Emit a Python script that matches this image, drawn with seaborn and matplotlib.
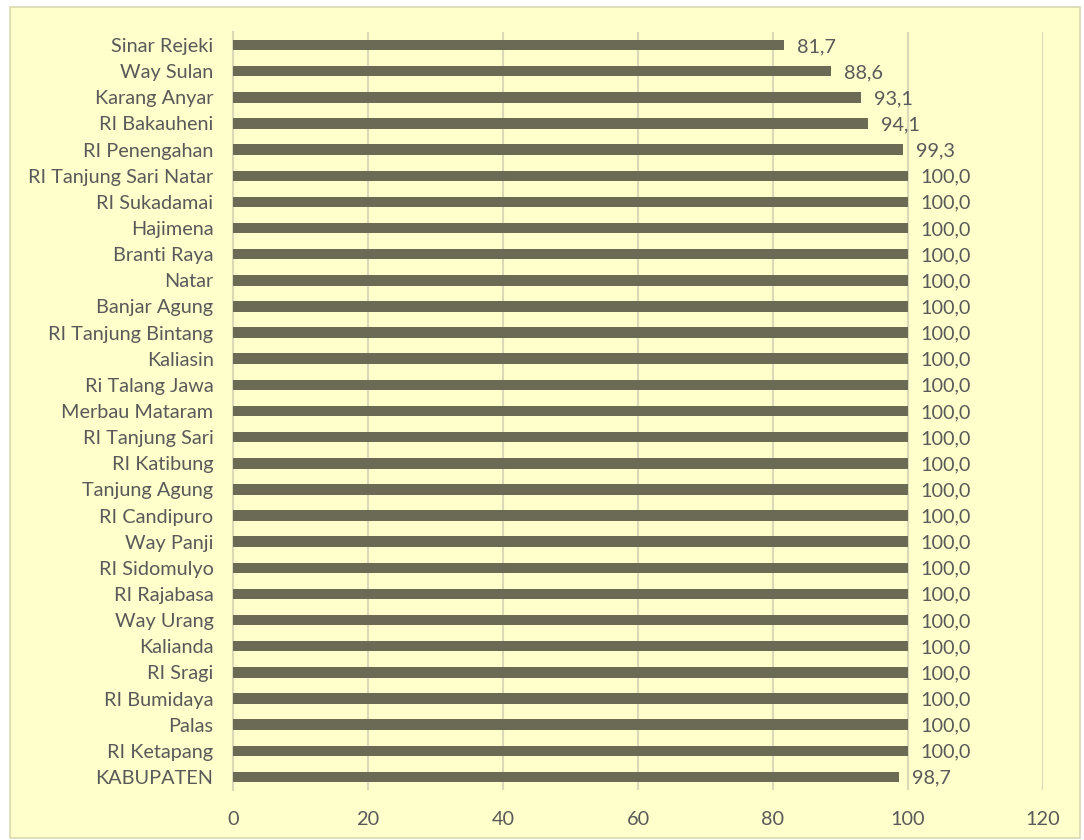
import matplotlib
matplotlib.use("Agg")
import matplotlib.pyplot as plt
import seaborn as sns
import pandas as pd
from matplotlib.patches import Rectangle

categories = ["Sinar Rejeki", "Way Sulan", "Karang Anyar", "RI Bakauheni", "RI Penengahan",
              "RI Tanjung Sari Natar", "RI Sukadamai", "Hajimena", "Branti Raya", "Natar",
              "Banjar Agung", "RI Tanjung Bintang", "Kaliasin", "Ri Talang Jawa", "Merbau Mataram",
              "RI Tanjung Sari", "RI Katibung", "Tanjung Agung", "RI Candipuro", "Way Panji",
              "RI Sidomulyo", "RI Rajabasa", "Way Urang", "Kalianda", "RI Sragi", "RI Bumidaya",
              "Palas", "RI Ketapang", "KABUPATEN"]
values = [81.7, 88.6, 93.1, 94.1, 99.3] + [100.0] * 23 + [98.7]
xticks = [0, 20, 40, 60, 80, 100, 120]

df = pd.DataFrame({"name": categories, "value": values})

sns.set_theme(style="white")
plt.rcParams['font.family'] = ['Lato', 'DejaVu Sans']

W, H = 1084, 840
fig = plt.figure(figsize=(W / 100, H / 100), dpi=100)
fig.patch.set_facecolor("white")
fig.patches.append(Rectangle((10 / W, 1 - 838 / H), 1070 / W, 831 / H, transform=fig.transFigure,
                             facecolor="#FFFFCC", edgecolor="#D9D9B0", linewidth=1.2, zorder=-10))

ax = fig.add_axes([233 / W, 1 - 790 / H, (1043 - 233) / W, (790 - 32) / H])
ax.set_facecolor("none")

sns.barplot(data=df, x="value", y="name", orient="h", color="#6B6B55", saturation=1,
            width=0.4, linewidth=0, ax=ax, zorder=3)

fs = 14.3
ax.set_xlim(0, 120)
ax.set_ylim(len(categories) - 0.5, -0.5)
ax.set_xticks(xticks)
ax.set_xticklabels([str(t) for t in xticks])
ax.grid(axis="x", color="#D9D9B8", linewidth=1.5, zorder=0)
ax.set_axisbelow(True)
for s in ["top", "right", "bottom"]:
    ax.spines[s].set_visible(False)
ax.spines["left"].set_color("#D9D9B8")
ax.spines["left"].set_linewidth(1.5)
ax.set_xlabel("")
ax.set_ylabel("")
ax.tick_params(axis="x", length=0, pad=15, labelsize=fs, labelcolor="#595959")
ax.tick_params(axis="y", length=0, pad=14, labelsize=fs, labelcolor="#595959")

for i, v in enumerate(values):
    ax.annotate(f"{v:.1f}".replace(".", ","), xy=(v, i), xytext=(9, -1), textcoords="offset points",
                va="center", ha="left", fontsize=fs, color="#595959")

fig.savefig("out.png", dpi=100, facecolor=fig.get_facecolor())
